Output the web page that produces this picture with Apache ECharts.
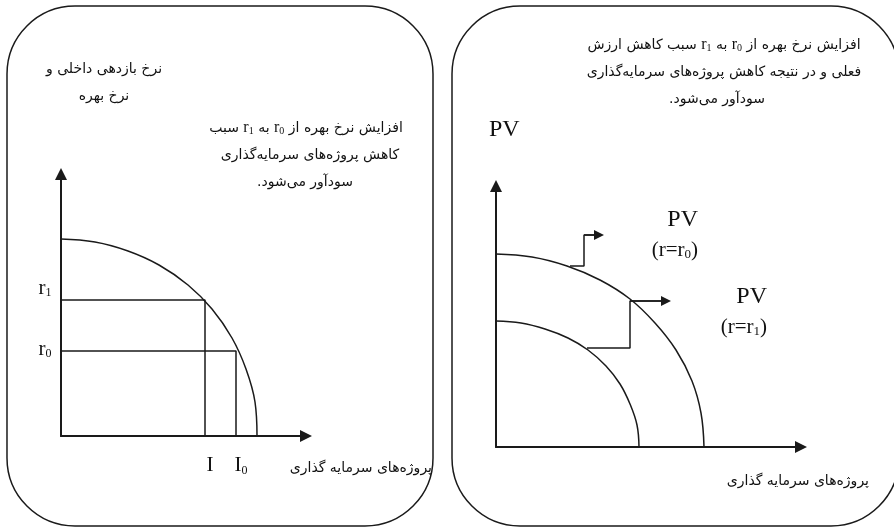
<!DOCTYPE html>
<html>
<head>
<meta charset="utf-8">
<script src="https://cdn.jsdelivr.net/npm/echarts@6/dist/echarts.min.js"></script>
<style>
html, body { margin: 0; padding: 0; background: #fff; }
#main { width: 894px; height: 528px; }
</style>
</head>
<body>
<div id="main"></div>
<script>
// left panel, units counted from the axes origin
let irrCurve = [[0, 197], [34, 194], [67, 185], [98, 171], [127, 151], [151, 127], [171, 98], [185, 67], [194, 34], [196, 0]]
let rateNames = ['r0', 'r1']
let rateLevels = [85, 136]
let investNames = ['I0', 'I']
let investLevels = [175, 144]

// right panel, PV curves and the two shift arrows
let pvCurveR0 = [[0, 193], [36, 190], [71, 181], [104, 167], [134, 148], [159, 124], [180, 97], [196, 66], [205, 34], [208, 0]]
let pvCurveR1 = [[0, 126], [25, 124], [49, 118], [72, 109], [92, 97], [110, 81], [124, 63], [134, 43], [141, 22], [143, 0]]
let shiftStep0 = [[74, 181], [88, 181], [88, 212], [103, 212]]
let shiftStep1 = [[91, 99], [134, 99], [134, 146], [170, 146]]

let ink = '#1a1a1a'
let fa = '14px "DejaVu Sans"'
let serif = '"Liberation Serif"'
let line = { color: ink, width: 1.5 }

function sub(name) {
    // 'r0' -> r with subscript 0
    let s = '{m|' + name[0] + '}'
    if (name.length > 1) s += '{u|' + name.slice(1) + '}'
    return s
}

let tickRich = {
    m: { fontFamily: serif, fontSize: 21, color: '#111' },
    u: { fontFamily: serif, fontSize: 12, color: '#111', padding: [10, 0, 0, 0] }
}

function axis(grid, max) {
    return {
        type: 'value', gridIndex: grid, min: 0, max: max,
        axisLine: { show: true, symbol: ['none', 'triangle'], symbolSize: [12, 12], lineStyle: { color: ink, width: 2 } },
        axisTick: { show: false }, axisLabel: { show: false }, splitLine: { show: false }
    }
}

function rateSeries(i) {
    let r = rateLevels[i], inv = investLevels[i]
    let rName = sub(rateNames[i]), iName = sub(investNames[i])
    return {
        type: 'line', xAxisIndex: 0, yAxisIndex: 0, clip: false,
        symbol: 'circle', symbolSize: 1, itemStyle: { color: 'rgba(0,0,0,0)' },
        lineStyle: line,
        label: { show: false, color: '#111', rich: tickRich },
        data: [
            { value: [0, r], label: { show: true, position: 'left', distance: 9, offset: [0, i == 1 ? -12 : -2], formatter: () => rName } },
            [inv, r],
            { value: [inv, 0], label: { show: true, position: 'bottom', distance: 18, offset: [5, 0], formatter: () => iName } }
        ]
    }
}

function stepSeries(points) {
    let n = points.length
    return {
        type: 'line', xAxisIndex: 1, yAxisIndex: 1, clip: false,
        data: points, showSymbol: false, lineStyle: line,
        markLine: {
            silent: true, symbol: ['none', 'triangle'], symbolSize: 10,
            label: { show: false },
            lineStyle: { type: 'solid', color: ink, width: 1.5 },
            data: [[{ coord: points[n - 2] }, { coord: points[n - 1] }]]
        }
    }
}

function curveSeries(grid, points) {
    return {
        type: 'line', xAxisIndex: grid, yAxisIndex: grid, clip: false,
        data: points, smooth: 0.4, showSymbol: false, lineStyle: line
    }
}

function txt(x, y, text, align, font, rich) {
    return {
        type: 'text', x: x, y: y, z: 10,
        style: { text: text, font: font || fa, fill: '#111', align: align || 'center', verticalAlign: 'middle', rich: rich }
    }
}

let midRich = {
    m: { fontFamily: serif, fontSize: 16, color: '#111' },
    u: { fontFamily: serif, fontSize: 10, color: '#111', padding: [7, 0, 0, 0] }
}
let pvRich = {
    u: { fontFamily: serif, fontSize: 13, color: '#111', padding: [9, 0, 0, 0] }
}
let pvFont = '21px ' + serif

let chart = echarts.init(document.getElementById('main'))
let option = {
    animation: false,
    grid: [
        { left: 61, top: 174, width: 245, height: 262, outerBoundsMode: 'none' },
        { left: 496, top: 186, width: 305, height: 261, outerBoundsMode: 'none' }
    ],
    xAxis: [axis(0, 245), axis(1, 305)],
    yAxis: [axis(0, 262), axis(1, 261)],
    graphic: [
        { type: 'rect', shape: { x: 7, y: 6, width: 426, height: 520, r: 68 }, style: { fill: 'none', stroke: ink, lineWidth: 1.5 } },
        { type: 'rect', shape: { x: 452, y: 6, width: 447, height: 520, r: 68 }, style: { fill: 'none', stroke: ink, lineWidth: 1.5 } },
        txt(104, 69, 'نرخ بازدهی داخلی و'),
        txt(104, 96, 'نرخ بهره'),
        txt(306, 128, 'سبب {m|r}{u|1} به {m|r}{u|0} افزایش نرخ بهره از', 'center', fa, midRich),
        txt(310, 155, 'کاهش پروژه‌های سرمایه‌گذاری'),
        txt(305, 182, 'سودآور می‌شود.\u200F'),
        txt(432, 468, 'پروژه‌های سرمایه گذاری', 'right'),
        txt(724, 45, 'سبب کاهش ارزش {m|r}{u|1} به {m|r}{u|0} افزایش نرخ بهره از', 'center', fa, midRich),
        txt(724, 72, 'فعلی و در نتیجه کاهش پروژه‌های سرمایه‌گذاری'),
        txt(717, 99, 'سودآور می‌شود.\u200F'),
        txt(489, 130, 'PV', 'left', '24px ' + serif),
        txt(698, 220, 'PV', 'right', '24px ' + serif),
        txt(698, 250, '(r=r{u|0})', 'right', pvFont, pvRich),
        txt(767, 297, 'PV', 'right', '24px ' + serif),
        txt(767, 327, '(r=r{u|1})', 'right', pvFont, pvRich),
        txt(869, 481, 'پروژه‌های سرمایه گذاری', 'right')
    ],
    series: [
        curveSeries(0, irrCurve),
        rateSeries(0),
        rateSeries(1),
        curveSeries(1, pvCurveR0),
        curveSeries(1, pvCurveR1),
        stepSeries(shiftStep0),
        stepSeries(shiftStep1)
    ]
}
chart.setOption(option)
</script>
</body>
</html>
